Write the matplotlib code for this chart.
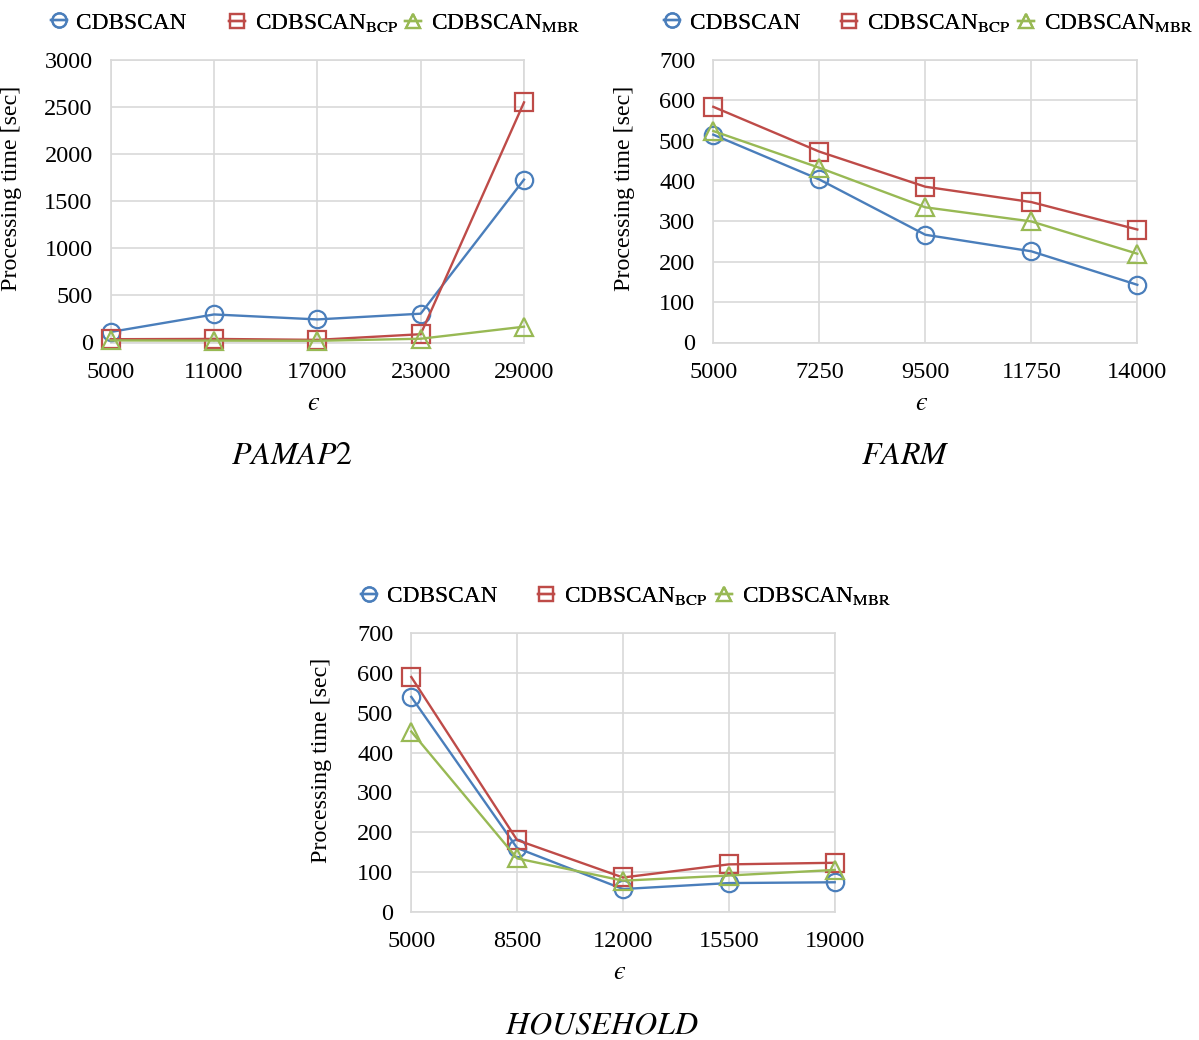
import matplotlib
matplotlib.use("Agg")
import matplotlib.pyplot as plt
from matplotlib.ticker import FixedLocator

plt.rcParams["font.family"] = ["Liberation Serif", "DejaVu Serif"]
plt.rcParams["mathtext.fontset"] = "stix"

# ---- data ----
series_labels = ["CDBSCAN", r"CDBSCAN$_{\mathrm{BCP}}$", r"CDBSCAN$_{\mathrm{MBR}}$"]

pamap_eps = [5000, 11000, 17000, 23000, 29000]
pamap_cdbscan = [112, 298, 245, 306, 1730]
pamap_bcp = [35, 38, 28, 88, 2550]
pamap_mbr = [22, 20, 18, 40, 168]
pamap_yticks = [0, 500, 1000, 1500, 2000, 2500, 3000]

farm_eps = [5000, 7250, 9500, 11750, 14000]
farm_cdbscan = [515, 404, 267, 226, 143]
farm_bcp = [584, 473, 386, 348, 280]
farm_mbr = [524, 433, 335, 300, 220]
farm_yticks = [0, 100, 200, 300, 400, 500, 600, 700]

house_eps = [5000, 8500, 12000, 15500, 19000]
house_cdbscan = [540, 160, 57, 72, 74]
house_bcp = [590, 180, 86, 119, 123]
house_mbr = [453, 134, 78, 91, 105]
house_yticks = [0, 100, 200, 300, 400, 500, 600, 700]

colors = ["#4A7EBB", "#BE4B48", "#98B954"]
markers = ["o", "s", "^"]

W, H = 1199, 1040
fig = plt.figure(figsize=(W / 100, H / 100), dpi=100)


def px_axes(left, right, top, bottom):
    return fig.add_axes([left / W, 1 - bottom / H, (right - left) / W, (bottom - top) / H])


def draw_panel(ax, eps, series, yticks, title, title_xy, ylab_x, legend_x, legend_y):
    lines = []
    for vals, c, m in zip(series, colors, markers):
        ln, = ax.plot(eps, vals, color=c, lw=1.7, marker=m, ms=12.5,
                      mfc="none", mec=c, mew=1.6, zorder=3, clip_on=False)
        lines.append(ln)
    ax.set_xlim(eps[0], eps[-1])
    ax.set_ylim(yticks[0], yticks[-1])
    ax.xaxis.set_major_locator(FixedLocator(eps))
    ax.yaxis.set_major_locator(FixedLocator(yticks))
    ax.set_xticklabels([str(e) for e in eps])
    ax.grid(True, color="#D9D9D9", lw=1.2)
    ax.set_axisbelow(True)
    for s in ax.spines.values():
        s.set_color("#D9D9D9")
        s.set_linewidth(1.2)
    ax.tick_params(length=0, labelsize=17.5, colors="black")
    ax.tick_params(axis="x", pad=14)
    ax.tick_params(axis="y", pad=13)
    ax.set_ylabel("Processing time [sec]", fontsize=17.3)
    ax.set_xlabel("\u03f5", fontsize=19, family=["STIXGeneral", "DejaVu Serif"],
                  style="italic")
    bb = ax.get_position()
    ax_left = bb.x0 * W
    ax_w = bb.width * W
    ax_h = bb.height * H
    ax.yaxis.set_label_coords((ylab_x - ax_left) / ax_w, 0.545)
    ax.xaxis.set_label_coords(0.49, -49 / ax_h)

    fig.text(title_xy[0] / W, 1 - title_xy[1] / H, title, fontsize=23,
             ha="center", va="center")

    for ln, lab, lx in zip(lines, series_labels, legend_x):
        leg = fig.legend([ln], [lab], loc="center left",
                         bbox_to_anchor=((lx - 8) / W, 1 - legend_y / H),
                         frameon=False, fontsize=16.8, borderpad=0, borderaxespad=0,
                         handlelength=0.7, handletextpad=0.4, markerscale=0.82)
        fig.add_artist(leg)


ax1 = px_axes(110.7, 524, 60, 342.5)
draw_panel(ax1, pamap_eps, [pamap_cdbscan, pamap_bcp, pamap_mbr], pamap_yticks,
           r"$PAMAP2$", (292, 456), 22, [58.7, 237, 413], 23)

ax2 = px_axes(713.3, 1137.3, 60, 342.5)
draw_panel(ax2, farm_eps, [farm_cdbscan, farm_bcp, farm_mbr], farm_yticks,
           r"$FARM$", (905, 456), 635, [672, 849, 1026], 23)

ax3 = px_axes(411.3, 834.7, 633.3, 911.7)
draw_panel(ax3, house_eps, [house_cdbscan, house_bcp, house_mbr], house_yticks,
           r"$HOUSEHOLD$", (602, 1026), 332, [369, 546, 724], 596)

fig.savefig("out.png", dpi=100, facecolor="white")
